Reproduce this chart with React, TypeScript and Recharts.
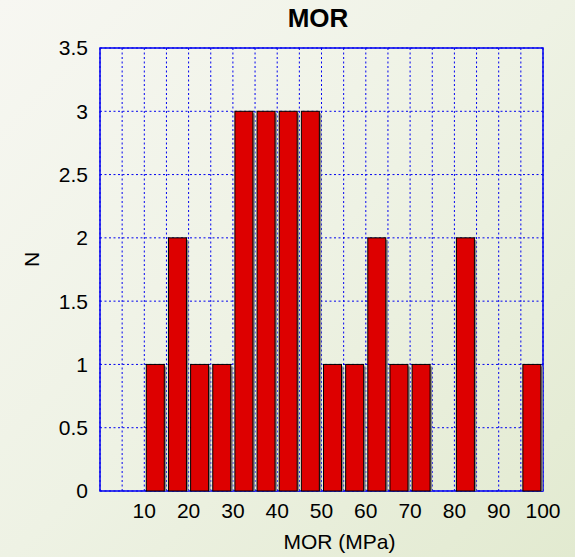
import React from "react";
import {
  BarChart,
  Bar,
  XAxis,
  YAxis,
  CartesianGrid,
  ReferenceArea,
  Label,
} from "recharts";

// histogram bins (centre of each 5 MPa bin) and counts
const BIN_CENTERS = [12.5, 17.5, 22.5, 27.5, 32.5, 37.5, 42.5, 47.5, 52.5, 57.5, 62.5, 67.5, 72.5, 77.5, 82.5, 87.5, 92.5, 97.5];
const COUNTS = [1, 2, 1, 1, 3, 3, 3, 3, 1, 1, 2, 1, 1, 0, 2, 0, 0, 1];

const X_TICKS = [5, 10, 15, 20, 25, 30, 35, 40, 45, 50, 55, 60, 65, 70, 75, 80, 85, 90, 95, 100];
const Y_TICKS = [0, 0.5, 1, 1.5, 2, 2.5, 3, 3.5];

const data = BIN_CENTERS.map((c, i) => ({ center: c, n: COUNTS[i] }));

const FONT = "'Liberation Sans', Arial, Helvetica, sans-serif";
const BLUE = "#0000f0";

const HistBar = (props: any) => {
  const { x, y, width, height } = props;
  if (!height || height <= 0) return null;
  return (
    <g>
      <rect x={x + width} y={y + 2} width={2} height={height - 2} fill="#8a8a8a" />
      <rect x={x} y={y} width={width} height={height} fill="#dd0000" stroke="#000" strokeWidth={1} />
    </g>
  );
};

export default function App() {
  return (
    <div
      style={{
        position: "absolute",
        top: 0,
        left: 0,
        width: 575,
        height: 557,
        background: "linear-gradient(135deg, #f7f7f2 0%, #eef2e4 50%, #e2ead0 100%)",
        fontFamily: FONT,
      }}
    >
      <svg width={575} height={40} style={{ position: "absolute", top: 0, left: 0 }}>
        <text x={318} y={27} textAnchor="middle" fontSize={26} fontWeight="bold" fill="#000" fontFamily={FONT}>
          MOR
        </text>
      </svg>
      <BarChart
        width={575}
        height={557}
        data={data}
        margin={{ top: 48, right: 32, bottom: 0, left: 0 }}
        style={{ position: "absolute", top: 0, left: 0 }}
      >
        <CartesianGrid stroke={BLUE} strokeDasharray="2 2.5" strokeWidth={1} />
        <XAxis
          dataKey="center"
          type="number"
          domain={[0, 100]}
          ticks={X_TICKS}
          interval={0}
          height={66}
          axisLine={false}
          tickLine={false}
          tickSize={6}
          tickMargin={6}
          tickFormatter={(v: number) => (v % 10 === 0 ? String(v) : "")}
          tick={{ fontSize: 21, fill: "#000", fontFamily: FONT }}
        >
          <Label
            content={(p: any) => {
              const vb = p.viewBox;
              return (
                <text x={vb.x + vb.width / 2 + 18} y={549} textAnchor="middle" fontSize={21} fill="#000" fontFamily={FONT}>
                  MOR (MPa)
                </text>
              );
            }}
          />
        </XAxis>
        <YAxis
          type="number"
          domain={[0, 3.5]}
          ticks={Y_TICKS}
          interval={0}
          width={100}
          axisLine={false}
          tickLine={false}
          tickSize={6}
          tickMargin={6}
          tick={{ fontSize: 21, fill: "#000", fontFamily: FONT }}
        >
          <Label
            content={(p: any) => {
              const vb = p.viewBox;
              const cy = vb.y + vb.height / 2 - 10;
              return (
                <text x={31} y={cy} textAnchor="middle" dominantBaseline="central" fontSize={21} fill="#000" fontFamily={FONT} transform={`rotate(-90 31 ${cy})`}>
                  N
                </text>
              );
            }}
          />
        </YAxis>
        <Bar dataKey="n" barSize={18} shape={HistBar} isAnimationActive={false} />
        <ReferenceArea x1={0} x2={100} y1={0} y2={3.5} fill="none" fillOpacity={0} stroke={BLUE} strokeWidth={1.5} ifOverflow="visible" />
      </BarChart>
    </div>
  );
}
